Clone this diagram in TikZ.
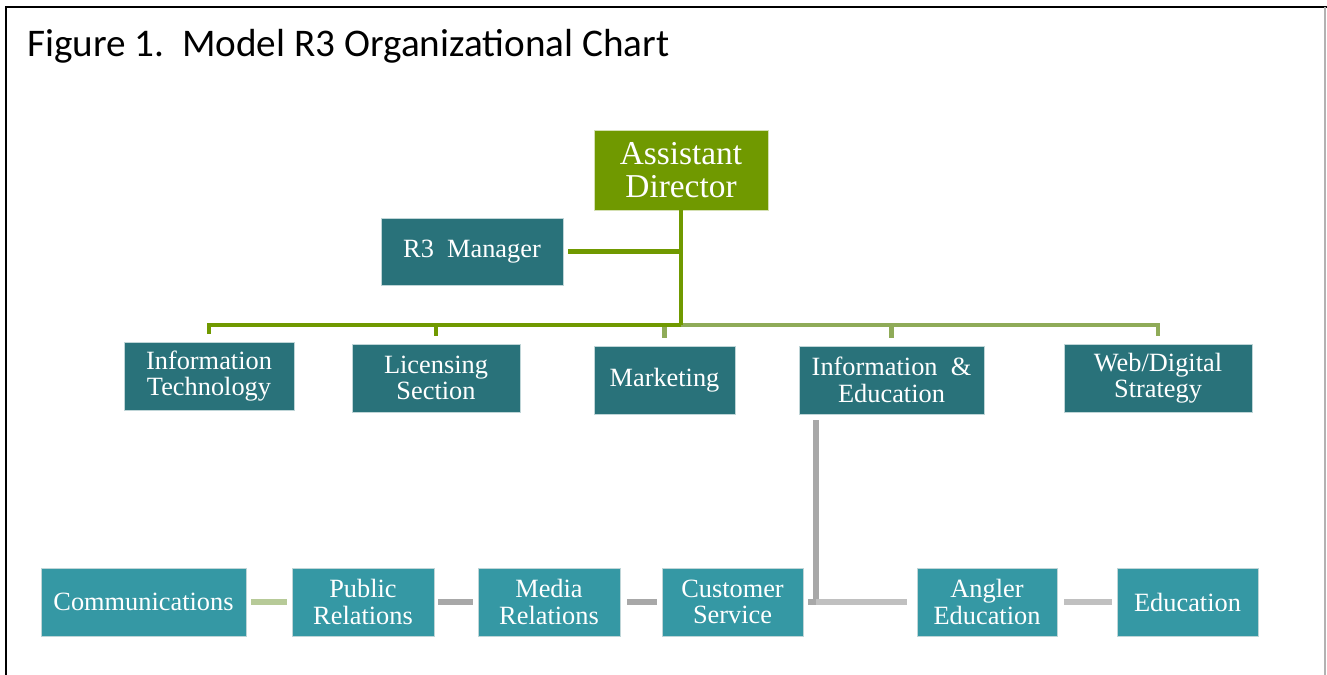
\documentclass[tikz,border=0pt]{standalone}
\usepackage{fontspec}
\setmainfont{Liberation Serif}
\newfontfamily\titlefont{Carlito}
\usepackage{tikz}
\usetikzlibrary{positioning}

\definecolor{adgreen}{RGB}{112,153,0}
\definecolor{busgreen}{RGB}{143,171,88}
\definecolor{sage}{RGB}{183,202,152}
\definecolor{darkteal}{RGB}{41,114,122}
\definecolor{lightteal}{RGB}{53,152,164}
\definecolor{linegray}{RGB}{168,168,168}
\definecolor{palegray}{RGB}{192,192,192}

\begin{document}
\begin{tikzpicture}[x=0.02cm, y=-0.02cm,
	box/.style={draw=white!70!darkteal, line width=0.4pt, inner sep=0pt, text=white, align=center,
		font=\fontsize{15}{15}\selectfont, minimum height=1.36cm},
	topbox/.style={box, fill=darkteal},
	lowbox/.style={box, fill=lightteal},
	gline/.style={draw=adgreen, line width=2.8pt},
	lgline/.style={draw=busgreen, line width=2.8pt},
	gapline/.style={shorten >=0.16cm}]
	\useasboundingbox (0,0) rectangle (1327,675);
	% frame and title
	\draw[line width=1.2pt] (6,675) -- (6,7) -- (1327,7);
	\draw[gray!60, line width=1pt] (1325,7) -- (1325,675);
	\path (21,57) node (title) [anchor=base west, font=\titlefont\fontsize{22.3}{26}\selectfont]
		{Figure 1.\ \ Model R3 Organizational Chart};

	\path (681,170) node (ad) [box, fill=adgreen, draw=white!70!adgreen, minimum width=3.48cm,
			minimum height=1.6cm, font=\fontsize{19}{19}\selectfont] {Assistant\\Director}
		  (472,251.5) node (r3) [topbox, minimum width=3.64cm, minimum height=1.34cm] {R3\ \ Manager}
		  (209,376) node (it) [topbox, minimum width=3.4cm] {Information\\Technology}
		  (436,378) node (lic) [topbox, minimum width=3.36cm] {Licensing\\Section}
		  (664.5,380) node (mkt) [topbox, minimum width=2.82cm] {Marketing}
		  (891.5,380) node (ie) [topbox, minimum width=3.7cm] {Information\ \ \&\\Education}
		  (1158,378) node (web) [topbox, minimum width=3.76cm] {Web/Digital\\Strategy};

	\path (143.5,602) node (comm) [lowbox, minimum width=4.1cm] {Communications}
		  (363,602) node (pr) [lowbox, minimum width=2.84cm] {Public\\Relations}
		  (549,602) node (mr) [lowbox, minimum width=2.84cm] {Media\\Relations}
		  (732.5,602) node (cs) [lowbox, minimum width=2.82cm] {Customer\\Service}
		  (987,602) node (ae) [lowbox, minimum width=2.8cm] {Angler\\Education}
		  (1187.5,602) node (edu) [lowbox, minimum width=2.82cm] {Education};

	\coordinate (bus) at (681,325);
	\coordinate (iejoin) at (816,602);

	% green tree
	\draw[lgline, gapline] (bus) -| (mkt);
	\draw[lgline, gapline] (bus) -| (ie);
	\draw[lgline, gapline] (bus) -| (web);
	\draw[gline, gapline] (bus) -| (lic);
	\draw[gline, gapline] (bus) -| (it);
	\draw[gline] (ad) -- (bus);
	\draw[gline, shorten <=0.1cm] (r3) -- (r3 -| ad);

	% grey branches
	\draw[linegray, line width=3.4pt, shorten <=0.12cm] (iejoin |- ie.south) -- (iejoin);
	\draw[palegray, line width=3.4pt, shorten >=0.2cm] (iejoin) -- (ae);
	\draw[linegray, line width=3.4pt, shorten <=0.1cm] (cs) -- (iejoin);
	\draw[palegray, line width=3.4pt, shorten <=0.14cm, shorten >=0.1cm] (ae) -- (edu);
	\draw[linegray, line width=3.4pt, shorten <=0.14cm, shorten >=0.1cm] (mr) -- (cs);
	\draw[linegray, line width=3.4pt, shorten <=0.08cm, shorten >=0.1cm] (pr) -- (mr);
	\draw[sage, line width=3.4pt, shorten <=0.1cm, shorten >=0.1cm] (comm) -- (pr);
\end{tikzpicture}
\end{document}
